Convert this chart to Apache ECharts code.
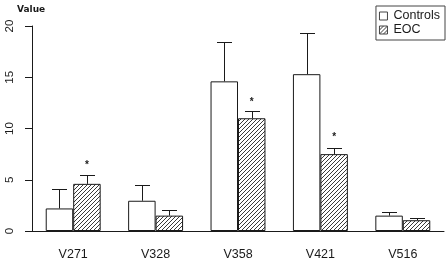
<!DOCTYPE html>
<html>
<head>
<meta charset="utf-8">
<script src="https://cdn.jsdelivr.net/npm/echarts@6/dist/echarts.min.js"></script>
<style>
  html, body { margin: 0; padding: 0; background: #fff; }
  #chart { width: 448px; height: 264px; }
</style>
</head>
<body>
<div id="chart"></div>
<script>
// values
var categories = ["V271", "V328", "V358", "V421", "V516"];
var controls = [2.2, 2.95, 14.6, 15.3, 1.5];
var controlsErr = [4.1, 4.5, 18.4, 19.3, 1.85];   // top of upper whisker
var eoc = [4.6, 1.5, 11.0, 7.5, 1.05];
var eocErr = [5.5, 2.05, 11.7, 8.1, 1.3];
var eocStar = [6.4, null, 12.6, 9.1, null];        // "*" marks
var yTicks = [0, 5, 10, 15, 20];

// hatch pattern for EOC bars
function hatch() {
  var c = document.createElement("canvas");
  c.width = 4; c.height = 4;
  var ctx = c.getContext("2d");
  ctx.fillStyle = "#fff";
  ctx.fillRect(0, 0, 4, 4);
  ctx.strokeStyle = "#3a3a3a";
  ctx.lineWidth = 1;
  ctx.beginPath();
  ctx.moveTo(-1, 5); ctx.lineTo(5, -1);
  ctx.moveTo(-1, 1); ctx.lineTo(1, -1);
  ctx.moveTo(3, 5); ctx.lineTo(5, 3);
  ctx.stroke();
  return c;
}

var ink = "#1a1a1a";

function errBars(params, api) {
  var i = api.value(0);
  var band = api.size([1, 0])[0];
  var w = band / 3;
  var half = 7.5;
  var kids = [];
  [[api.value(1), api.value(2), -w / 2], [api.value(3), api.value(4), w / 2]].forEach(function (d) {
    var base = api.coord([i, d[0]]);
    var top = api.coord([i, d[1]]);
    var x = Math.round(base[0] + d[2]) + 0.5;
    kids.push({ type: "line", shape: { x1: x, y1: base[1], x2: x, y2: Math.round(top[1]) + 0.5 },
      style: { stroke: ink, lineWidth: 1 } });
    kids.push({ type: "line", shape: { x1: x - half, y1: Math.round(top[1]) + 0.5, x2: x + half, y2: Math.round(top[1]) + 0.5 },
      style: { stroke: ink, lineWidth: 1 } });
  });
  var s = api.value(5);
  if (!isNaN(s) && s !== null) {
    var p = api.coord([i, s]);
    kids.push({ type: "text", x: p[0] + w / 2, y: p[1],
      style: { text: "*", fontSize: 10, fontFamily: "Liberation Sans", fontWeight: "bold", fill: ink, align: "center", verticalAlign: "middle" } });
  }
  return { type: "group", children: kids };
}

var errData = categories.map(function (c, i) {
  return [i, controls[i], controlsErr[i], eoc[i], eocErr[i], eocStar[i] == null ? NaN : eocStar[i]];
});

var chart = echarts.init(document.getElementById("chart"), null, { renderer: "canvas" });
chart.setOption({
  animation: false,
  textStyle: { fontFamily: "Liberation Sans", color: ink },
  title: {
    text: "Value", left: 12, top: 0,
    textStyle: { fontSize: 9, fontWeight: "bold", color: ink, fontFamily: "DejaVu Sans" }
  },
  legend: {
    data: ["Controls", "EOC"],
    orient: "vertical",
    right: 3, top: 6,
    itemWidth: 8, itemHeight: 8, itemGap: 0,
    padding: [3, 5, 3, 3],
    borderColor: "#444", borderWidth: 1,
    icon: "rect",
    itemStyle: { borderWidth: 1, borderColor: "#444" },
    textStyle: { fontSize: 12.5, lineHeight: 14, color: ink, padding: [0, 0, 0, 1] }
  },
  grid: { left: 32, right: 4, top: 26, bottom: 33 },
  xAxis: {
    type: "category",
    data: categories,
    axisLine: { lineStyle: { color: ink, width: 1 } },
    axisTick: { show: false },
    axisLabel: { fontSize: 12.5, color: ink, margin: 17 }
  },
  yAxis: {
    type: "value",
    min: 0, max: 20, interval: 5,
    axisLine: { show: true, lineStyle: { color: ink, width: 1 } },
    axisTick: { show: true, length: 7, lineStyle: { color: ink } },
    splitLine: { show: false },
    axisLabel: {
      fontSize: 11.5, color: ink, rotate: 90, margin: 16,
      formatter: function (v) { return yTicks.indexOf(v) >= 0 ? String(v) : ""; }
    }
  },
  series: [
    {
      name: "Controls", type: "bar", data: controls,
      barGap: "0%", barCategoryGap: "33.33%",
      itemStyle: { color: "#fff", borderColor: ink, borderWidth: 1 }
    },
    {
      name: "EOC", type: "bar", data: eoc,
      itemStyle: { color: { image: hatch(), repeat: "repeat" }, borderColor: ink, borderWidth: 1 }
    },
    {
      type: "custom", data: errData, renderItem: errBars, z: 5,
      encode: { x: 0, y: [1, 2, 3, 4] }
    }
  ]
});
</script>
</body>
</html>
